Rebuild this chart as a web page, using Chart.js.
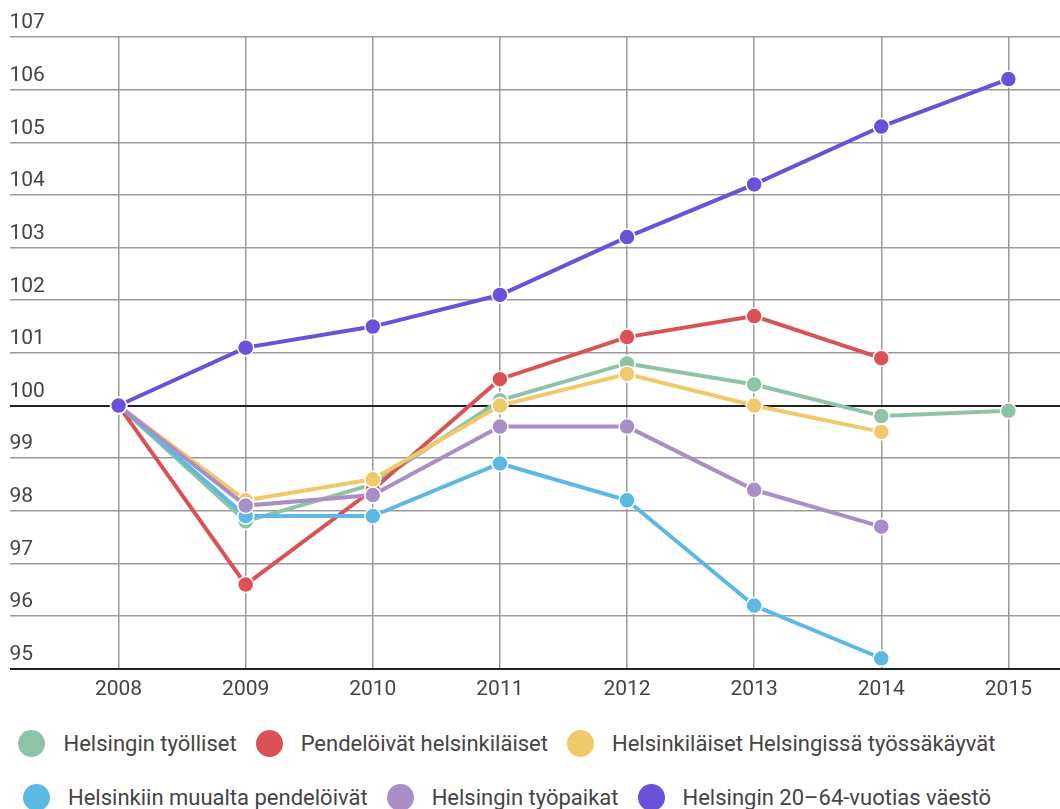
<!DOCTYPE html>
<html>
<head>
<meta charset="utf-8">
<script src="https://cdn.jsdelivr.net/npm/chart.js@4"></script>
<style>
  html, body { margin: 0; background: #fff; font-family: Roboto, sans-serif; overflow: hidden; }
  #wrap { position: relative; width: 1060px; height: 710px; overflow: hidden; }
  #legend { position: absolute; left: 0; top: 716px; width: 1014px; }
  .row { display: flex; justify-content: center; height: 54px; align-items: center; }
  .item { display: flex; align-items: center; margin: 0 9.5px; font-size: 22px; color: #444; white-space: nowrap; }
  .dot { width: 27px; height: 27px; border-radius: 50%; margin-right: 18px; }
</style>
</head>
<body>
<!-- canvas a bit wider than the page: Chart.js keeps ~10px on the right for the last x label -->
<div id="wrap"><canvas id="chart" width="1070" height="710"></canvas></div>
<div id="legend"></div>
<script>
// years on the x axis
const years = [2008, 2009, 2010, 2011, 2012, 2013, 2014, 2015];
const yTicks = [95, 96, 97, 98, 99, 100, 101, 102, 103, 104, 105, 106, 107];

// series (index, 2008 = 100)
const tyolliset = [100, 97.8, 98.5, 100.1, 100.8, 100.4, 99.8, 99.9];
const pendeloivat = [100, 96.6, 98.4, 100.5, 101.3, 101.7, 100.9, null];
const helsingissaTyossa = [100, 98.2, 98.6, 100.0, 100.6, 100.0, 99.5, null];
const muualtaPendeloivat = [100, 97.9, 97.9, 98.9, 98.2, 96.2, 95.2, null];
const tyopaikat = [100, 98.1, 98.3, 99.6, 99.6, 98.4, 97.7, null];
const vaesto = [100, 101.1, 101.5, 102.1, 103.2, 104.2, 105.3, 106.2];

const seriesNames = [
  "Helsingin työlliset",
  "Pendelöivät helsinkiläiset",
  "Helsinkiläiset Helsingissä työssäkäyvät",
  "Helsinkiin muualta pendelöivät",
  "Helsingin työpaikat",
  "Helsingin 20\u201364-vuotias väestö"
];
const seriesValues = [tyolliset, pendeloivat, helsingissaTyossa, muualtaPendeloivat, tyopaikat, vaesto];
const colors = ["#8dc4a7", "#db5254", "#f0ca6a", "#5cb8e5", "#a98ec7", "#6b50d9"];

const datasets = seriesValues.map((vals, i) => ({
  label: seriesNames[i],
  data: years.map((y, j) => ({ x: y, y: vals[j] })).filter((p) => p.y !== null),
  borderColor: colors[i],
  backgroundColor: colors[i],
  borderWidth: 4,
  pointRadius: 8,
  pointBorderColor: "#fff",
  pointBorderWidth: 1.5,
  pointBackgroundColor: colors[i],
  order: seriesNames.length - i, // later series drawn on top
  tension: 0
}));

Chart.defaults.font.family = "Roboto, sans-serif";
Chart.defaults.color = "#444";

const ctx = document.getElementById("chart").getContext("2d");
new Chart(ctx, {
  type: "line",
  data: { datasets: datasets },
  options: {
    responsive: false,
    animation: false,
    layout: { padding: { left: 8, top: 37, right: 0, bottom: 0 } },
    plugins: {
      legend: { display: false },
      tooltip: { enabled: false }
    },
    scales: {
      x: {
        type: "linear",
        min: 2007.142,
        max: 2015.41,
        afterBuildTicks: (scale) => {
          scale.ticks = years.map((v) => ({ value: v }));
        },
        ticks: {
          font: { size: 21 },
          color: "#444",
          padding: 8,
          autoSkip: false,
          maxRotation: 0,
          callback: (v) => String(v)
        },
        grid: { color: "#9a9a9a", lineWidth: 1.5, drawTicks: false },
        border: { display: false }
      },
      y: {
        min: 95,
        max: 107,
        afterBuildTicks: (scale) => {
          scale.ticks = yTicks.map((v) => ({ value: v }));
        },
        ticks: {
          mirror: true,
          padding: 0,
          labelOffset: -14,
          font: { size: 21 },
          color: "#444"
        },
        grid: {
          drawTicks: false,
          color: (c) => (c.tick && (c.tick.value === 100 || c.tick.value === 95) ? "#222" : "#9a9a9a"),
          lineWidth: (c) => (c.tick && (c.tick.value === 100 || c.tick.value === 95) ? 2 : 1.5)
        },
        border: { display: false }
      }
    }
  }
});

// legend rows
const legendRows = [[0, 1, 2], [3, 4, 5]];
const legendEl = document.getElementById("legend");
legendRows.forEach((row) => {
  const r = document.createElement("div");
  r.className = "row";
  row.forEach((i) => {
    const item = document.createElement("div");
    item.className = "item";
    const dot = document.createElement("span");
    dot.className = "dot";
    dot.style.background = colors[i];
    const txt = document.createElement("span");
    txt.textContent = seriesNames[i];
    item.appendChild(dot);
    item.appendChild(txt);
    r.appendChild(item);
  });
  legendEl.appendChild(r);
});
</script>
</body>
</html>
